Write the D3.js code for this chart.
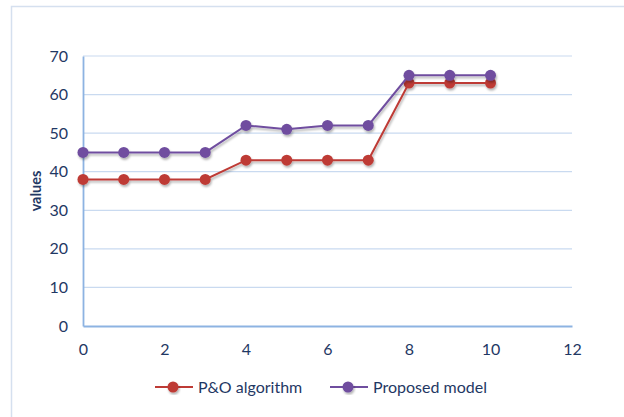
<!DOCTYPE html>
<html>
<head>
<meta charset="utf-8">
<script src="https://cdn.jsdelivr.net/npm/d3@7/dist/d3.min.js"></script>
<style>
  html, body { margin: 0; padding: 0; background: #fff; }
  svg { display: block; }
  text { font-family: Lato, "Open Sans", sans-serif; }
</style>
</head>
<body>
<script>
// Series data
const xValues = [0, 1, 2, 3, 4, 5, 6, 7, 8, 9, 10];
const poValues = [38, 38, 38, 38, 43, 43, 43, 43, 63, 63, 63];
const proposedValues = [45, 45, 45, 45, 52, 51, 52, 52, 65, 65, 65];
const seriesNames = ["P&O algorithm", "Proposed model"];
const xTicks = [0, 2, 4, 6, 8, 10, 12];
const yTicks = [0, 10, 20, 30, 40, 50, 60, 70];

const W = 624, H = 417;
const colors = ["#BE3B36", "#6F4E9F"];
const textColor = "#1F3864";

const svg = d3.select("body").append("svg")
  .attr("width", W).attr("height", H);

// soft shadow under line and markers
const defs = svg.append("defs");
const f = defs.append("filter").attr("id", "shadow")
  .attr("x", "-20%").attr("y", "-20%").attr("width", "140%").attr("height", "140%");
f.append("feDropShadow").attr("dx", 1).attr("dy", 2).attr("stdDeviation", 1.2)
  .attr("flood-color", "#000").attr("flood-opacity", 0.3);

// outer chart frame
svg.append("rect").attr("x", 11.5).attr("y", 6.5).attr("width", W).attr("height", H)
  .attr("fill", "none").attr("stroke", "#D5E0EF").attr("stroke-width", 1.5);

const x = d3.scaleLinear().domain([0, 12]).range([83, 572]);
const y = d3.scaleLinear().domain([0, 70]).range([326, 56]);

// horizontal gridlines
svg.append("g").selectAll("line").data(yTicks.filter(d => d > 0)).join("line")
  .attr("x1", x(0)).attr("x2", x(12))
  .attr("y1", d => y(d)).attr("y2", d => y(d))
  .attr("stroke", "#C9DAF0").attr("stroke-width", 1.2);

// axes
const yAxis = svg.append("g").attr("transform", `translate(${x(0)},0)`)
  .call(d3.axisLeft(y).tickValues(yTicks).tickSize(0).tickPadding(15));
const xAxis = svg.append("g").attr("transform", `translate(0,${y(0)})`)
  .call(d3.axisBottom(x).tickValues(xTicks).tickSize(0).tickPadding(18));
[yAxis, xAxis].forEach(g => {
  g.select(".domain").attr("stroke", "#8DB3E2").attr("stroke-width", 1.8);
  g.selectAll("text").attr("fill", textColor).style("font-size", "16px")
    .style("font-family", "Lato, 'Open Sans', sans-serif");
});

// y-axis title
svg.append("text")
  .attr("transform", `translate(41,${(y(0) + y(70)) / 2}) rotate(-90)`)
  .attr("text-anchor", "middle")
  .attr("fill", textColor).style("font-size", "14.5px").style("font-weight", "bold")
  .text("values");

const series = [poValues, proposedValues];
const line = d3.line().x((d, i) => x(xValues[i])).y(d => y(d));

series.forEach((vals, s) => {
  const g = svg.append("g").attr("filter", "url(#shadow)");
  g.append("path").datum(vals).attr("d", line)
    .attr("fill", "none").attr("stroke", colors[s]).attr("stroke-width", 2);
  g.selectAll("circle").data(vals).join("circle")
    .attr("cx", (d, i) => x(xValues[i])).attr("cy", d => y(d)).attr("r", 5.5)
    .attr("fill", colors[s]);
});

// legend
const legendX = [155, 330];
seriesNames.forEach((name, s) => {
  const lg = svg.append("g").attr("transform", `translate(${legendX[s]},387)`);
  lg.append("line").attr("x1", 0).attr("x2", 38).attr("y1", 0).attr("y2", 0)
    .attr("stroke", colors[s]).attr("stroke-width", 2);
  lg.append("circle").attr("cx", 18).attr("cy", 0).attr("r", 5.5)
    .attr("fill", colors[s]).attr("filter", "url(#shadow)");
  lg.append("text").attr("x", 43).attr("y", 0).attr("dy", "0.35em")
    .attr("fill", textColor).style("font-size", "16px").text(name);
});
</script>
</body>
</html>
